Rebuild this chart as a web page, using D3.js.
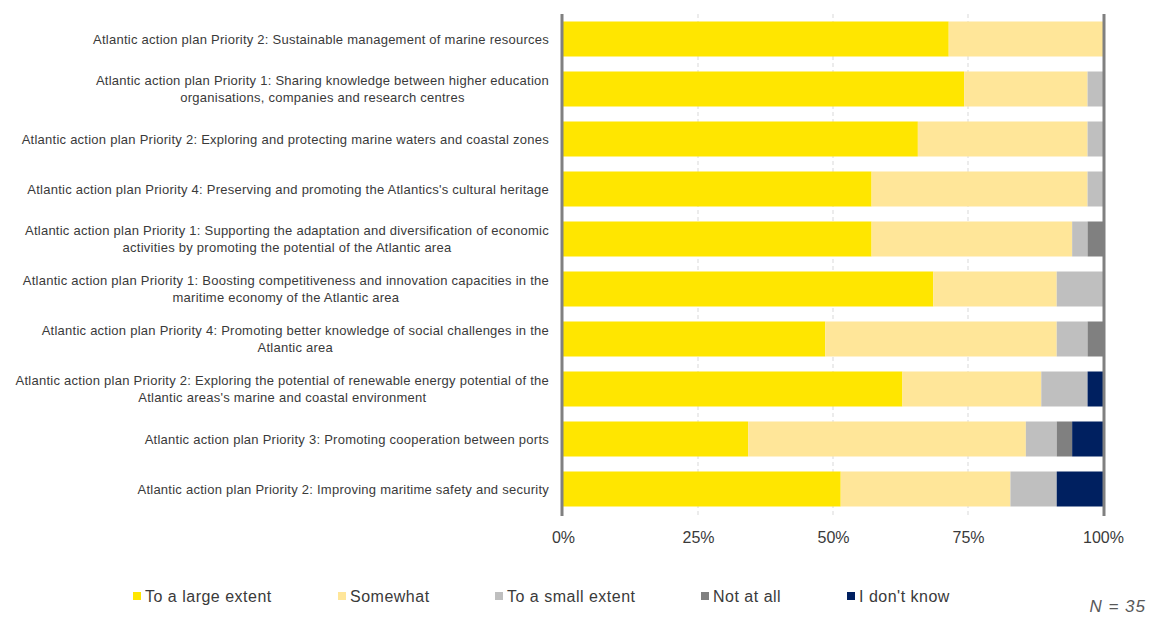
<!DOCTYPE html>
<html>
<head>
<meta charset="utf-8">
<script src="https://cdn.jsdelivr.net/npm/d3@7"></script>
<style>
  html, body { margin: 0; padding: 0; background: #fff; }
  svg { display: block; font-family: "Liberation Sans", Arial, sans-serif; }
</style>
</head>
<body>
<svg id="chart" width="1150" height="618"></svg>
<script>
// Survey items (top to bottom), each label split into display lines
const categories = [
  ["Atlantic action plan Priority 2: Sustainable management of marine resources"],
  ["Atlantic action plan Priority 1: Sharing knowledge between higher education", "organisations, companies and research centres"],
  ["Atlantic action plan Priority 2: Exploring and protecting marine waters and coastal zones"],
  ["Atlantic action plan Priority 4: Preserving and promoting the Atlantics's cultural heritage"],
  ["Atlantic action plan Priority 1: Supporting the adaptation and diversification of economic", "activities by promoting the potential of the Atlantic area"],
  ["Atlantic action plan Priority 1: Boosting competitiveness and innovation capacities in the", "maritime economy of the Atlantic area"],
  ["Atlantic action plan Priority 4: Promoting better knowledge of social challenges in the", "Atlantic area"],
  ["Atlantic action plan Priority 2: Exploring the potential of renewable energy potential of the", "Atlantic areas's marine and coastal environment"],
  ["Atlantic action plan Priority 3: Promoting cooperation between ports"],
  ["Atlantic action plan Priority 2: Improving maritime safety and security"]
];

// Response counts per item (N = 35)
const toALargeExtent = [25, 26, 23, 20, 20, 24, 17, 22, 12, 18];
const somewhat       = [10,  8, 11, 14, 13,  8, 15,  9, 18, 11];
const toASmallExtent = [ 0,  1,  1,  1,  1,  3,  2,  3,  2,  3];
const notAtAll       = [ 0,  0,  0,  0,  1,  0,  1,  0,  1,  0];
const dontKnow       = [ 0,  0,  0,  0,  0,  0,  0,  1,  2,  3];

const seriesNames = ["To a large extent", "Somewhat", "To a small extent", "Not at all", "I don't know"];
const seriesColors = ["#FFE600", "#FFE699", "#BFBFBF", "#808080", "#002060"];
const tickValues = [0, 0.25, 0.5, 0.75, 1];
const tickLabels = ["0%", "25%", "50%", "75%", "100%"];
const sampleLabel = "N = 35";

const seriesValues = [toALargeExtent, somewhat, toASmallExtent, notAtAll, dontKnow];

const rows = categories.map((lines, i) => {
  const row = { id: i, lines };
  seriesNames.forEach((s, k) => row[s] = seriesValues[k][i]);
  return row;
});

const svg = d3.select("#chart");
const margin = { left: 563, right: 47, top: 14, bottom: 104 };
const W = 1150, H = 618;
const textColor = "#3A3A3A";

const x = d3.scaleLinear().domain([0, 1]).range([margin.left, W - margin.right]);
const y = d3.scaleBand().domain(rows.map(r => r.id)).range([margin.top, H - margin.bottom]).paddingInner(0.3).paddingOuter(0.15);
const color = d3.scaleOrdinal().domain(seriesNames).range(seriesColors);

// Dashed gridlines
svg.append("g")
  .selectAll("line")
  .data(tickValues.filter(t => t > 0 && t < 1))
  .join("line")
  .attr("x1", d => x(d)).attr("x2", d => x(d))
  .attr("y1", margin.top).attr("y2", H - margin.bottom + 2)
  .attr("stroke", "#D9D9D9").attr("stroke-width", 1)
  .attr("stroke-dasharray", "4,3");

// Stacked bars as shares of the row total
const stack = d3.stack().keys(seriesNames).offset(d3.stackOffsetExpand);
const layers = stack(rows);

svg.append("g")
  .selectAll("g")
  .data(layers)
  .join("g")
  .attr("fill", d => color(d.key))
  .selectAll("rect")
  .data(d => d)
  .join("rect")
  .attr("x", d => x(d[0]))
  .attr("width", d => Math.max(0, x(d[1]) - x(d[0])))
  .attr("y", d => y(d.data.id))
  .attr("height", y.bandwidth());

// Left and right frame lines
svg.append("g")
  .selectAll("line")
  .data([0, 1])
  .join("line")
  .attr("x1", d => x(d) + (d === 0 ? -1 : 1)).attr("x2", d => x(d) + (d === 0 ? -1 : 1))
  .attr("y1", margin.top).attr("y2", H - margin.bottom + 2)
  .attr("stroke", "#808080").attr("stroke-width", 3);

// Category labels: each block centred on itself, right edge near the axis
const labelRight = 549;
const labelG = svg.append("g")
  .attr("font-size", 13)
  .attr("letter-spacing", 0.25)
  .attr("fill", textColor);

rows.forEach(r => {
  const cy = y(r.id) + y.bandwidth() / 2;
  const lh = 17;
  const g = labelG.append("g");
  const texts = r.lines.map((line, j) =>
    g.append("text")
      .attr("y", cy + (j - (r.lines.length - 1) / 2) * lh)
      .attr("dy", "0.35em")
      .attr("text-anchor", "middle")
      .text(line)
  );
  const maxW = d3.max(texts, t => t.node().getComputedTextLength());
  texts.forEach(t => t.attr("x", labelRight - maxW / 2));
});

// X axis tick labels
const xAxis = d3.axisBottom(x).tickValues(tickValues).tickFormat((d, i) => tickLabels[i]).tickSize(0).tickPadding(0);
const axisG = svg.append("g")
  .attr("transform", `translate(0, ${H - margin.bottom + 23})`)
  .call(xAxis);
axisG.select(".domain").remove();
axisG.selectAll("text")
  .attr("font-size", 16)
  .attr("font-family", "\"Liberation Sans\", Arial, sans-serif")
  .attr("fill", textColor)
  .attr("dy", "0.35em");

// Legend
const legendX = [133, 338, 495, 701, 847];
const legendY = 596;
const legend = svg.append("g")
  .selectAll("g")
  .data(seriesNames)
  .join("g")
  .attr("transform", (d, i) => `translate(${legendX[i]}, ${legendY})`);
legend.append("rect")
  .attr("x", 0).attr("y", -4)
  .attr("width", 8).attr("height", 8)
  .attr("fill", d => color(d));
legend.append("text")
  .attr("x", 12).attr("y", 0).attr("dy", "0.35em")
  .attr("font-size", 16)
  .attr("letter-spacing", 0.5)
  .attr("fill", textColor)
  .text(d => d);

// Sample size note
svg.append("text")
  .attr("x", 1146).attr("y", 612)
  .attr("text-anchor", "end")
  .attr("font-size", 17)
  .attr("letter-spacing", 1)
  .attr("font-style", "italic")
  .attr("fill", "#595959")
  .text(sampleLabel);
</script>
</body>
</html>
